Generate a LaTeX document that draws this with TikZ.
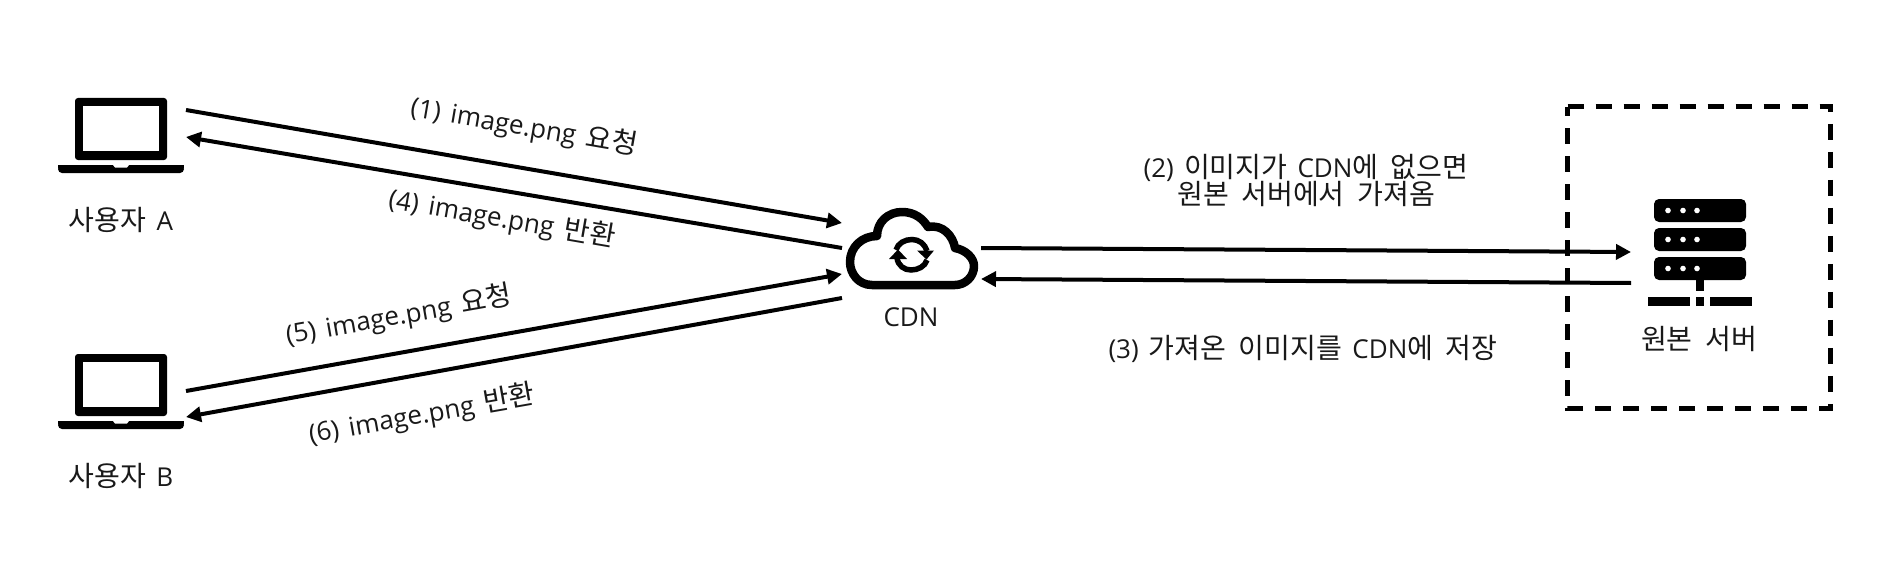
\documentclass[tikz,border=0pt]{standalone}
\usepackage{fontspec}
\setmainfont[WordSpace=1.5]{Open Sans}
\newfontfamily\krfont[Scale=1.08,WordSpace=2]{Noto Sans CJK KR}
\newcommand{\kr}[1]{{\krfont #1}}
\usetikzlibrary{arrows.meta}
\tikzset{
  flow/.style={line width=4pt,-{Triangle[length=15pt,width=15pt]}},
  lbl/.style={font=\fontsize{26}{32}\selectfont,text=black!90,inner sep=0pt,align=center},
  laptop/.pic={
    \fill[rounded corners=3pt] (75,98) -- (167,98) -- (167,160) -- (75,160) -- cycle;
    \fill[white] (83,106) rectangle (159,151);
    \fill[rounded corners=4pt] (58,165) -- (184,165) -- (184,173) -- (58,173) -- cycle;
    \fill[black] (58,165) rectangle (184,168);
    \fill[white] (113,165) -- (129,165) -- (127,167.5) -- (115,167.5) -- cycle;
  }
}
\begin{document}
\begin{tikzpicture}[x=1pt,y=-1pt]
\useasboundingbox (0,0) rectangle (1894,583);
\fill[white] (0,0) rectangle (1894,583);
% laptops
\pic at (0,0) {laptop};
\pic at (0,256) {laptop};
% cloud
\draw[line width=8.5pt,line join=round]
  (872,285) .. controls (858,285) and (850,273) .. (850,262)
  .. controls (850,247) and (862,236) .. (877,236)
  .. controls (877,222) and (888,212) .. (902,212)
  .. controls (915,212) and (923,219) .. (928,227)
  .. controls (943,224) and (953,236) .. (955,248)
  .. controls (966,250) and (974,258) .. (974,266)
  .. controls (974,277) and (965,285) .. (955,285) -- cycle;
% refresh icon
\draw[line width=5.5pt] (896,250) .. controls (898,243) and (905,239.5) .. (912,239.5) .. controls (919,239.5) and (925,244) .. (927,251);
\fill (917,250.5) -- (934,250.5) -- (926.5,259.5) -- cycle;
\draw[line width=5.5pt] (927,260) .. controls (925,266.5) and (918,270) .. (911,270) .. controls (904,270) and (898,265.5) .. (897,258);
\fill (889,259) -- (907,259) -- (898,249.5) -- cycle;
% server
\foreach \y in {199,228,257}{
  \fill[rounded corners=5pt] (1654,\y) rectangle (1746,\y+23);
  \foreach \x in {1668,1683,1697} \fill[white] (\x,\y+11.5) circle (2.8);
}
\fill (1696,280) rectangle (1704,291);
\fill (1648,297) rectangle (1690,306);
\fill (1696,297) rectangle (1704,306);
\fill (1710,297) rectangle (1752,306);
% dashed box
\draw[line width=5pt,dash pattern=on 16pt off 12pt] (1567.7,106.7) -- (1830.5,106.7) -- (1830.5,408.5) -- (1567.7,408.5) -- cycle;
% text
\node[lbl] (usera) at (121,220) {\kr{사용자} A};
\node[lbl] (userb) at (121,476) {\kr{사용자} B};
\node[lbl] (cdn) at (911,317) {CDN};
\node[lbl] (srv) at (1699,339) {\kr{원본 서버}};
\node[lbl,rotate=-9.8] (l1) at (524,127) {(1) image.png \kr{요청}};
\node[lbl,rotate=-9.8] (l4) at (502,219) {(4) image.png \kr{반환}};
\node[lbl,rotate=10] (l5) at (399,316) {(5) image.png \kr{요청}};
\node[lbl,rotate=10] (l6) at (422,415) {(6) image.png \kr{반환}};
\node[lbl] (l2) at (1306,180) {(2) \kr{이미지가} CDN\kr{에 없으면}\\[-5pt]\kr{원본 서버에서 가져옴}};
\node[lbl] (l3) at (1303,349) {(3) \kr{가져온 이미지를} CDN\kr{에 저장}};
% connector ends
\coordinate (a1) at (186,110); \coordinate (c1) at (842,223);
\coordinate (c2) at (842,248); \coordinate (a2) at (186,137);
\coordinate (b1) at (186,391); \coordinate (c3) at (842,274);
\coordinate (c4) at (842,298); \coordinate (b2) at (186,417);
\coordinate (c5) at (981,248); \coordinate (s1) at (1631,252);
\coordinate (s2) at (1631,283); \coordinate (c6) at (981,279);
\draw[flow] (a1) -- (c1);
\draw[flow] (c2) -- (a2);
\draw[flow] (b1) -- (c3);
\draw[flow] (c4) -- (b2);
\draw[flow] (c5) -- (s1);
\draw[flow] (s2) -- (c6);
\end{tikzpicture}
\end{document}
